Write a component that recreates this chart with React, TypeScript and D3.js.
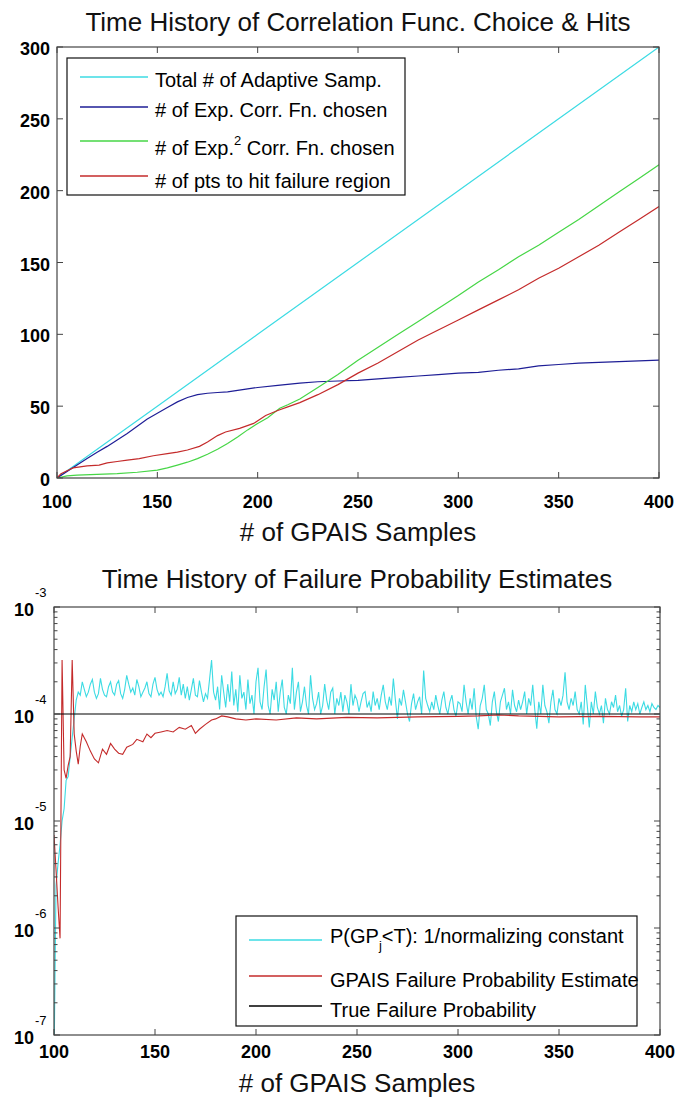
import React from 'react';
import * as d3 from 'd3';

const FONT = '"Liberation Sans", Arial, Helvetica, sans-serif';

// ---------------- Top chart data ----------------
const topTitle = 'Time History of Correlation Func. Choice & Hits';
const xLabel = '# of GPAIS Samples';
const topXTicks = [100, 150, 200, 250, 300, 350, 400];
const topYTicks = [0, 50, 100, 150, 200, 250, 300];

const totalX = [100, 150, 200, 250, 300, 350, 400];
const totalY = [0, 50, 100, 150, 200, 250, 300];

const expX = [100, 105, 110, 115, 120, 125, 130, 135, 140, 145, 150, 155, 160, 165, 170, 175, 180, 185, 190, 195, 200, 210, 221, 230, 240, 250, 260, 270, 280, 290, 300, 310, 320, 330, 340, 350, 360, 370, 380, 390, 400];
const expY = [0, 4.5, 9, 13.5, 18, 22, 26.5, 31, 36, 41, 45, 49, 53, 56, 58, 59, 59.5, 60, 61, 62, 63, 64.5, 66, 67, 67.5, 68, 69, 70, 71, 72, 73, 73.5, 75, 76, 78, 79, 80, 80.5, 81, 81.5, 82];

const exp2X = [100, 105, 110, 120, 130, 140, 150, 155, 160, 165, 170, 175, 180, 185, 190, 195, 200, 205, 211, 215, 221, 230, 240, 250, 260, 270, 280, 290, 300, 310, 320, 330, 340, 350, 360, 370, 380, 390, 400];
const exp2Y = [0, 1.5, 2, 2.5, 3, 4, 5.5, 7, 9, 11, 13.5, 16.5, 20, 24, 28.5, 33.5, 38, 42, 48.5, 51, 55, 63, 72, 82, 91, 100, 109, 118, 127, 136.5, 145, 154, 162, 171, 180, 189.5, 199, 208.5, 218];

const hitsX = [100, 102, 105, 108, 115, 121, 125, 130, 135, 141, 148, 155, 160, 165, 171, 175, 180, 184, 191, 198, 204, 210, 215, 221, 230, 240, 250, 260, 270, 280, 290, 300, 310, 320, 330, 340, 350, 360, 370, 380, 390, 400];
const hitsY = [0, 3, 5, 7, 8.5, 9, 10.5, 11.5, 12.5, 13.5, 15.5, 17, 18, 19.5, 22, 25, 29.5, 32, 34.5, 38, 43.5, 47, 49.5, 52.5, 58, 65, 73, 80, 88, 96, 103, 110, 117, 124, 131, 139, 146, 154, 162, 171, 180, 189];

const topColors = ['#3cdbe3', '#1e1e96', '#46d646', '#c42b2b'];

// ---------------- Bottom chart data ----------------
const botTitle = 'Time History of Failure Probability Estimates';
const botXTicks = [100, 150, 200, 250, 300, 350, 400];
const botYExps = [-7, -6, -5, -4, -3];

// P(GP_j<T) per sample (x = 100..400), in units of 1e-4
const cyanFirstX = 100;
const cyanE4 = [
  0.0005, 0.025, 0.04, 0.06, 0.1, 0.13, 0.24, 0.26, 0.4, 0.6, 0.9, 1.35,
  1.6, 1.5, 2.0, 1.7, 1.45, 1.6, 1.9, 2.1, 1.6, 1.4,
  1.55, 2.15, 1.7, 1.5, 1.45, 1.8, 2.0, 1.6, 1.5, 1.9,
  2.05, 1.55, 1.4, 1.7, 2.3, 1.9, 1.6, 1.75, 1.5, 2.1,
  1.8, 1.45, 1.6, 1.75, 2.0, 1.55, 1.45, 1.9, 2.2, 1.7,
  1.5, 1.6, 1.45, 1.8, 2.4, 1.65, 1.5, 2.0, 1.55, 1.7,
  2.2, 1.5, 1.9, 1.4, 1.8, 1.35, 1.7, 2.15, 1.5, 1.45,
  2.05, 1.6, 1.3, 1.55, 1.4, 2.1, 3.2, 1.6, 1.35, 1.8,
  1.1, 2.3, 1.6, 1.15, 1.9, 1.3, 2.5, 1.2, 1.7, 1.05,
  2.3, 1.4, 1.6, 1.1, 2.1, 1.25, 1.5, 1.0, 2.0, 2.7,
  1.3, 1.1, 1.8, 2.6, 1.2, 1.0, 1.7, 1.35, 2.0, 1.05,
  1.6, 2.1, 1.15, 1.0, 1.5, 1.25, 2.7, 1.1, 1.6, 2.0,
  1.05, 1.3, 1.8, 1.2, 1.0, 2.3, 1.4, 1.1, 1.25, 1.6,
  1.0, 1.2, 1.9, 1.35, 1.1, 1.6, 1.75, 1.0, 1.4, 1.2,
  1.6, 1.05, 1.5, 1.3, 1.0, 1.9, 1.2, 1.5, 1.35, 1.05,
  1.3, 1.55, 1.62, 1.15, 1.3, 1.05, 1.62, 1.2, 1.4, 1.1,
  1.5, 1.87, 1.3, 1.1, 1.45, 1.2, 2.15, 1.35, 0.9, 1.4,
  1.2, 1.68, 1.3, 1.0, 0.85, 1.25, 1.55, 1.1, 1.3, 1.45,
  1.0, 2.55, 1.4, 1.2, 1.05, 1.3, 1.1, 1.5, 1.2, 1.0,
  1.35, 1.62, 1.15, 1.0, 1.3, 1.5, 1.1, 0.95, 1.3, 1.25,
  1.05, 1.87, 1.3, 1.0, 1.4, 1.1, 1.74, 0.95, 0.72, 1.2,
  1.4, 1.87, 1.1, 1.0, 0.78, 1.3, 1.62, 1.05, 0.85, 1.3,
  1.5, 1.74, 1.1, 1.3, 1.0, 1.68, 1.2, 1.05, 1.35, 1.1,
  1.3, 1.62, 1.0, 1.4, 1.2, 1.87, 1.1, 0.73, 1.3, 1.0,
  1.87, 1.2, 1.05, 0.82, 1.3, 1.68, 1.1, 1.0, 1.4, 1.2,
  1.5, 2.45, 1.3, 1.1, 1.4, 1.2, 1.62, 1.1, 1.0, 1.3,
  0.8, 1.87, 1.2, 0.75, 1.3, 1.0, 1.62, 1.15, 1.0, 1.2,
  0.82, 1.4, 1.1, 1.0, 1.3, 1.15, 1.5, 1.05, 1.2, 0.95,
  1.1, 1.74, 0.85, 1.2, 1.05, 1.3, 1.1, 1.25, 1.0, 1.15,
  1.3, 1.1, 1.2, 1.05, 1.25, 1.15, 1.1, 1.2, 1.15,
];

// GPAIS failure probability estimate, in units of 1e-4
const estX = [100, 101, 102, 103, 104, 105, 106, 107, 108, 109, 110, 111, 112, 113, 114, 116, 118, 120, 122, 124, 126, 128, 130, 132, 134, 136, 139, 141, 144, 146, 148, 150, 153, 156, 159, 162, 165, 168, 170, 172, 175, 178, 180, 183, 186, 190, 195, 200, 210, 220, 230, 245, 260, 280, 300, 310, 320, 330, 340, 350, 370, 390, 400];
const estE4 = [0.074, 0.035, 0.016, 0.008, 3.2, 0.3, 0.25, 0.33, 0.4, 3.2, 0.65, 0.45, 0.34, 0.5, 0.65, 0.55, 0.45, 0.38, 0.35, 0.47, 0.42, 0.53, 0.47, 0.43, 0.42, 0.49, 0.52, 0.58, 0.55, 0.65, 0.6, 0.66, 0.68, 0.7, 0.68, 0.75, 0.72, 0.78, 0.66, 0.72, 0.8, 0.88, 0.9, 0.96, 0.94, 0.9, 0.88, 0.9, 0.88, 0.92, 0.9, 0.93, 0.92, 0.94, 0.95, 0.96, 0.98, 0.96, 0.95, 0.94, 0.95, 0.94, 0.94];

const trueP = 1e-4;
const botColors = ['#3cdbe3', '#c42b2b', '#000000'];

const topLegend = ['Total # of Adaptive Samp.', '# of Exp. Corr. Fn. chosen', '# of Exp.', '# of pts to hit failure region'];

export default function App() {
  const W = 675;
  const H = 1103;
  const axisColor = '#444';

  // top plot frame
  const T = { l: 57, r: 659, t: 47, b: 478 };
  const xT = d3.scaleLinear().domain([100, 400]).range([T.l, T.r]);
  const yT = d3.scaleLinear().domain([0, 300]).range([T.b, T.t]);
  const lineT = d3.line<[number, number]>().x((d) => xT(d[0])).y((d) => yT(d[1]));
  const zip = (xs: number[], ys: number[]) => xs.map((x, i) => [x, ys[i]] as [number, number]);
  const topSeries = [zip(totalX, totalY), zip(expX, expY), zip(exp2X, exp2Y), zip(hitsX, hitsY)];

  // bottom plot frame
  const B = { l: 54, r: 660, t: 607, b: 1035 };
  const xB = d3.scaleLinear().domain([100, 400]).range([B.l, B.r]);
  const yB = d3.scaleLog().domain([1e-7, 1e-3]).range([B.b, B.t]);
  const lineB = d3.line<[number, number]>().x((d) => xB(d[0])).y((d) => yB(d[1]));
  const cyanPts = cyanE4.map((v, i) => [cyanFirstX + i, v * 1e-4] as [number, number]);
  const estPts = estX.map((x, i) => [x, estE4[i] * 1e-4] as [number, number]);
  const truePts: [number, number][] = [[100, trueP], [400, trueP]];

  const minorTicks: number[] = [];
  for (let e = -7; e < -3; e++) for (let m = 2; m <= 9; m++) minorTicks.push(m * Math.pow(10, e));

  const tk = 6;

  return (
    <svg width={W} height={H} style={{ position: 'absolute', left: 0, top: 0, background: '#fff' }} fontFamily={FONT}>
      <defs>
        <clipPath id="clipT"><rect x={T.l} y={T.t} width={T.r - T.l} height={T.b - T.t} /></clipPath>
        <clipPath id="clipB"><rect x={B.l} y={B.t} width={B.r - B.l} height={B.b - B.t} /></clipPath>
      </defs>
      <rect x={0} y={0} width={W} height={H} fill="#fff" />

      {/* ---------- TOP ---------- */}
      <text x={(T.l + T.r) / 2} y={31} textAnchor="middle" fontSize={26} fill="#111">{topTitle}</text>
      <g clipPath="url(#clipT)">
        {topSeries.map((s, i) => (
          <path key={i} d={lineT(s) || ''} fill="none" stroke={topColors[i]} strokeWidth={1.2} />
        ))}
      </g>
      <rect x={T.l} y={T.t} width={T.r - T.l} height={T.b - T.t} fill="none" stroke={axisColor} strokeWidth={1.2} />
      {topXTicks.map((v) => (
        <g key={'tx' + v}>
          <line x1={xT(v)} x2={xT(v)} y1={T.b} y2={T.b - tk} stroke={axisColor} />
          <line x1={xT(v)} x2={xT(v)} y1={T.t} y2={T.t + tk} stroke={axisColor} />
          <text x={xT(v)} y={508} textAnchor="middle" fontSize={18} fontWeight="bold" fill="#000">{v}</text>
        </g>
      ))}
      {topYTicks.map((v) => (
        <g key={'ty' + v}>
          <line x1={T.l} x2={T.l + tk} y1={yT(v)} y2={yT(v)} stroke={axisColor} />
          <line x1={T.r} x2={T.r - tk} y1={yT(v)} y2={yT(v)} stroke={axisColor} />
          <text x={50} y={yT(v) + 8} textAnchor="end" fontSize={18} fontWeight="bold" fill="#000">{v}</text>
        </g>
      ))}
      <text x={(T.l + T.r) / 2} y={541} textAnchor="middle" fontSize={26} fill="#111">{xLabel}</text>

      {/* top legend */}
      <g transform="translate(67,58)">
        <rect x={0} y={0} width={338} height={137} fill="#fff" stroke="#111" strokeWidth={1.2} />
        {[19, 49, 83, 118].map((ly, i) => (
          <line key={'tl' + i} x1={13} x2={81} y1={ly} y2={ly} stroke={topColors[i]} strokeWidth={1.3} />
        ))}
        <text x={88} y={29} fontSize={20} fill="#000">{topLegend[0]}</text>
        <text x={88} y={59} fontSize={20} fill="#000">{topLegend[1]}</text>
        <text x={88} y={97} fontSize={20} fill="#000">
          {topLegend[2]}
          <tspan dy={-10} fontSize={13}>2</tspan>
          <tspan dy={10}> Corr. Fn. chosen</tspan>
        </text>
        <text x={88} y={130} fontSize={20} fill="#000">{topLegend[3]}</text>
      </g>

      {/* ---------- BOTTOM ---------- */}
      <text x={(B.l + B.r) / 2} y={588} textAnchor="middle" fontSize={26} fill="#111">{botTitle}</text>
      <g clipPath="url(#clipB)">
        <path d={lineB(cyanPts) || ''} fill="none" stroke={botColors[0]} strokeWidth={1.1} />
        <path d={lineB(estPts) || ''} fill="none" stroke={botColors[1]} strokeWidth={1.1} />
        <path d={lineB(truePts) || ''} fill="none" stroke={botColors[2]} strokeWidth={1.1} />
      </g>
      <rect x={B.l} y={B.t} width={B.r - B.l} height={B.b - B.t} fill="none" stroke={axisColor} strokeWidth={1.2} />
      {botXTicks.map((v) => (
        <g key={'bx' + v}>
          <line x1={xB(v)} x2={xB(v)} y1={B.b} y2={B.b - tk} stroke={axisColor} />
          <line x1={xB(v)} x2={xB(v)} y1={B.t} y2={B.t + tk} stroke={axisColor} />
          <text x={xB(v)} y={1058} textAnchor="middle" fontSize={18} fontWeight="bold" fill="#000">{v}</text>
        </g>
      ))}
      {botYExps.map((e) => {
        const y = yB(Math.pow(10, e));
        return (
          <g key={'by' + e}>
            <line x1={B.l} x2={B.l + tk} y1={y} y2={y} stroke={axisColor} />
            <line x1={B.r} x2={B.r - tk} y1={y} y2={y} stroke={axisColor} />
            <text x={14} y={y + 9} fontSize={18} fontWeight="bold" fill="#000">
              10
              <tspan dx={1} dy={-19} fontSize={13} fontWeight="normal">{String(e)}</tspan>
            </text>
          </g>
        );
      })}
      {minorTicks.map((v, i) => (
        <g key={'mt' + i}>
          <line x1={B.l} x2={B.l + 3.5} y1={yB(v)} y2={yB(v)} stroke={axisColor} />
          <line x1={B.r} x2={B.r - 3.5} y1={yB(v)} y2={yB(v)} stroke={axisColor} />
        </g>
      ))}
      <text x={(B.l + B.r) / 2} y={1092} textAnchor="middle" fontSize={26} fill="#111">{xLabel}</text>

      {/* bottom legend */}
      <g transform="translate(236,916)">
        <rect x={0} y={0} width={401} height={110} fill="#fff" stroke="#111" strokeWidth={1.2} />
        {[24, 60, 90].map((ly, i) => (
          <line key={'bl' + i} x1={13} x2={86} y1={ly} y2={ly} stroke={botColors[i]} strokeWidth={1.3} />
        ))}
        <text x={94} y={27} fontSize={20} fill="#000">
          P(GP
          <tspan dy={7} fontSize={13}>j</tspan>
          <tspan dy={-7}>&lt;T): 1/normalizing constant</tspan>
        </text>
        <text x={94} y={71} fontSize={20} fill="#000">GPAIS Failure Probability Estimate</text>
        <text x={94} y={101} fontSize={20} fill="#000">True Failure Probability</text>
      </g>
    </svg>
  );
}
